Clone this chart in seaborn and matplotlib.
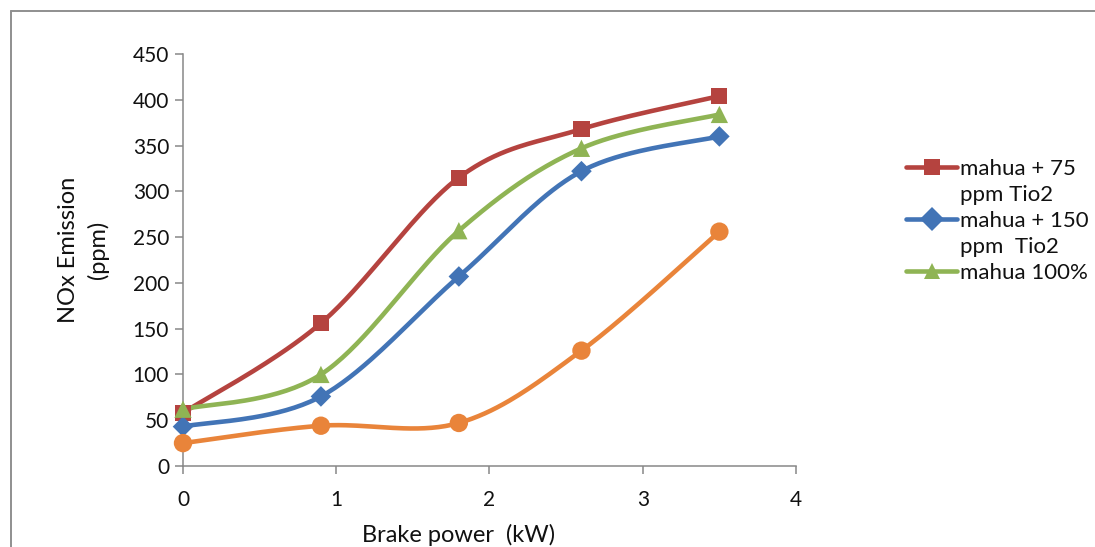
import numpy as np
import pandas as pd
import matplotlib
matplotlib.use("Agg")
import matplotlib.pyplot as plt
import seaborn as sns
from matplotlib.lines import Line2D

# Measured NOx emission (ppm) against brake power (kW)
brake_power = [0, 0.9, 1.8, 2.6, 3.5]
nox_75ppm = [58, 156, 315, 368, 404]
nox_150ppm = [43, 76, 207, 322, 360]
nox_mahua = [62, 100, 257, 347, 384]
nox_diesel = [25, 44, 47, 126, 256]

series_names = ["mahua + 75\nppm Tio2", "mahua + 150\nppm  Tio2", "mahua 100%", "diesel"]
x_ticks = [0, 1, 2, 3, 4]
y_ticks = [0, 50, 100, 150, 200, 250, 300, 350, 400, 450]

colors = ["#B5433F", "#4274B6", "#8FB454", "#E9843A"]
markers = ["s", "D", "^", "o"]
marker_sizes = [135, 110, 155, 175]

sns.set_theme(style="white")
plt.rcParams["font.family"] = ["Lato", "DejaVu Sans"]

W, H, DPI = 1095, 547, 100
fig = plt.figure(figsize=(W / DPI, H / DPI), dpi=DPI)
fig.patch.set_facecolor("white")
ax = fig.add_axes([183 / W, 1 - 466 / H, (796 - 183) / W, (466 - 54) / H])


def smooth_curve(xs, ys, sx, sy, n=40):
    """Smoothed line through the points: cubic Bezier segments with Catmull-Rom
    control points, computed in screen-proportional space."""
    p = np.column_stack([np.asarray(xs, float) * sx, np.asarray(ys, float) * sy])
    ext = np.vstack([p[0], p, p[-1]])
    out = []
    t = np.linspace(0, 1, n)[:, None]
    for i in range(len(p) - 1):
        p0, p3 = ext[i + 1], ext[i + 2]
        c1 = p0 + (ext[i + 2] - ext[i]) / 6.0
        c2 = p3 - (ext[i + 3] - ext[i + 1]) / 6.0
        seg = ((1 - t) ** 3) * p0 + 3 * ((1 - t) ** 2) * t * c1 + 3 * (1 - t) * t ** 2 * c2 + t ** 3 * p3
        out.append(seg if i == 0 else seg[1:])
    out = np.vstack(out)
    return out[:, 0] / sx, out[:, 1] / sy


sx = (796 - 183) / 4.0
sy = (466 - 54) / 450.0

all_series = [nox_75ppm, nox_150ppm, nox_mahua, nox_diesel]
for name, vals, c, m, ms in zip(series_names, all_series, colors, markers, marker_sizes):
    cx, cy = smooth_curve(brake_power, vals, sx, sy)
    curve = pd.DataFrame({"x": cx, "y": cy})
    sns.lineplot(data=curve, x="x", y="y", ax=ax, sort=False, estimator=None,
                 color=c, linewidth=3.3, legend=False)
    pts = pd.DataFrame({"x": brake_power, "y": vals})
    sns.scatterplot(data=pts, x="x", y="y", ax=ax, marker=m, s=ms, color=c,
                    edgecolor="none", linewidth=0, legend=False, zorder=3)

ax.set_xlim(0, 4)
ax.set_ylim(0, 450)
ax.set_xticks(x_ticks)
ax.set_yticks(y_ticks)
ax.set_xticklabels([str(v) for v in x_ticks])
ax.set_yticklabels([str(v) for v in y_ticks])

axis_gray = "#878787"
text_color = "#111111"
for side in ["top", "right"]:
    ax.spines[side].set_visible(False)
for side in ["left", "bottom"]:
    ax.spines[side].set_color(axis_gray)
    ax.spines[side].set_linewidth(1.1)
for line in ax.lines:
    line.set_clip_on(False)
for coll in ax.collections:
    coll.set_clip_on(False)

ax.tick_params(axis="both", which="major", direction="out", length=6, width=1.1,
               color=axis_gray, labelsize=15, labelcolor=text_color)
ax.tick_params(axis="y", pad=4)
ax.tick_params(axis="x", pad=11)
ax.tick_params(axis="both", bottom=True, left=True)

ax.set_xlabel("Brake power  (kW)", fontsize=17, color=text_color)
ax.xaxis.set_label_coords((459 - 183) / 613, (466 - 524) / 412)
ax.set_ylabel("NOx Emission\n(ppm)", fontsize=17, color=text_color, linespacing=1.45)
ax.yaxis.set_label_coords((109 - 183) / 613, (466 - 250) / 412)

# Legend: first three series, wrapped labels with the marker beside the first line
handles, labels = [], []
for name, c, m in zip(series_names[:3], colors[:3], markers[:3]):
    parts = name.split("\n")
    handles.append(Line2D([], [], color=c, lw=3.3, marker=m, markersize=12,
                          markeredgewidth=0))
    labels.append(parts[0])
    for extra in parts[1:]:
        handles.append(Line2D([], [], lw=0, marker=None))
        labels.append(extra)
fig.legend(handles, labels, loc="upper left", bbox_to_anchor=(906 / W, 1 - 159 / H),
           frameon=False, fontsize=16, handlelength=2.3, handletextpad=0.12,
           labelspacing=0.27, labelcolor=text_color, borderaxespad=0, borderpad=0)

# Outer chart-area frame (top and left edges)
frame_gray = "#8f8f8f"
fig.add_artist(Line2D([11 / W, 1.0], [1 - 11 / H, 1 - 11 / H], transform=fig.transFigure,
                      color=frame_gray, lw=1.4))
fig.add_artist(Line2D([11 / W, 11 / W], [0.0, 1 - 11 / H], transform=fig.transFigure,
                      color=frame_gray, lw=1.4))

fig.savefig("out.png", dpi=DPI, facecolor="white")
